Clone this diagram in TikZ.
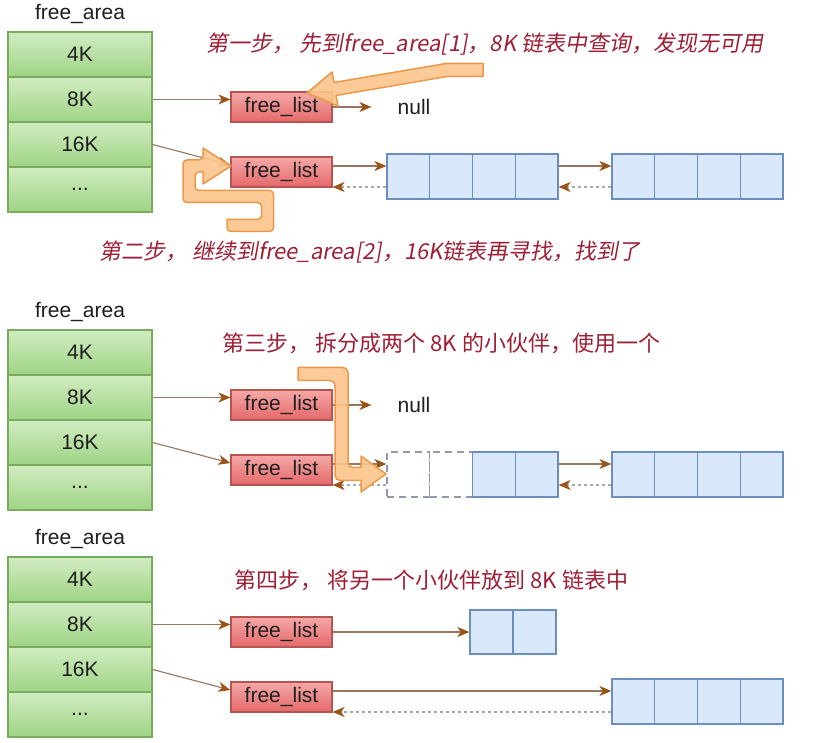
\documentclass[tikz,border=0pt]{standalone}
\usepackage{fontspec}
\setmainfont{Liberation Sans}
\newfontfamily\cjkup{Noto Sans CJK SC}
\newfontfamily\cjkslant[FakeSlant=0.18]{Noto Sans CJK SC}
\usetikzlibrary{arrows.meta}
\definecolor{gtop}{HTML}{D2ECC2}
\definecolor{gbot}{HTML}{9FD485}
\definecolor{gline}{HTML}{78AD5E}
\definecolor{rtop}{HTML}{F5A9A7}
\definecolor{rbot}{HTML}{E4686A}
\definecolor{rline}{HTML}{B85450}
\definecolor{bfill}{HTML}{DAE8FC}
\definecolor{bline}{HTML}{6C8EBF}
\definecolor{linkc}{HTML}{977560}
\definecolor{headc}{HTML}{9A5418}
\definecolor{dashc}{HTML}{A8A8A8}
\definecolor{ghostc}{HTML}{8F9AAE}
\definecolor{stepred}{HTML}{9F1F35}
\definecolor{ofill}{HTML}{FCC58C}
\definecolor{oline}{HTML}{EC984A}
\definecolor{ink}{HTML}{1E1E1E}
\begin{document}
\begin{tikzpicture}[x=1pt,y=-1pt,
  latinfont/.style={font=\fontsize{21pt}{25pt}\selectfont, text=ink},
  arealabel/.style={latinfont, inner sep=0},
  cell/.style={latinfont, draw=gline, line width=1.3pt, top color=gtop, bottom color=gbot,
    minimum width=144pt, minimum height=45pt, inner sep=0},
  flist/.style={latinfont, draw=rline, line width=1.2pt, top color=rtop, bottom color=rbot,
    minimum width=101pt, minimum height=30pt, inner sep=0},
  blk/.style={draw=bline, line width=1.3pt, fill=bfill, minimum width=42.75pt,
    minimum height=45pt, inner sep=0},
  ghost/.style={draw=ghostc, line width=1.3pt, dash pattern=on 7pt off 5pt,
    minimum width=42.75pt, minimum height=45pt, inner sep=0},
  link/.style={draw=linkc, line width=1.1pt, -{Stealth[length=12pt,width=10pt,inset=3.5pt,color=headc]}},
  back/.style={draw=dashc, line width=1.1pt, dash pattern=on 3pt off 3pt,
    -{Stealth[length=12pt,width=10pt,inset=3.5pt,color=headc]}},
  stepnote/.style={text=stepred, font=\cjkup\fontsize{22pt}{26pt}\selectfont, inner sep=0},
  stepslant/.style={text=stepred, font=\cjkslant\fontsize{22pt}{26pt}\selectfont, inner sep=0},
  bigarrow/.style={fill=ofill, draw=oline, line width=1.5pt, line join=round, fill opacity=0.9}
]
\useasboundingbox[fill=white] (0,0) rectangle (823,743);

% three copies of the free_area column with its two free_list heads
\foreach \p/\oy in {a/0,b/298,c/525}{
  \node[arealabel] (area\p) at (80,14+\oy) {free\_area};
  \node[cell] (kfour\p) at (80,54.5+\oy) {4K};
  \node[cell] (keight\p) at (80,99.5+\oy) {8K};
  \node[cell] (ksixteen\p) at (80,144.5+\oy) {16K};
  \node[cell] (kmore\p) at (80,189.5+\oy) {...};
  \node[flist] (fla\p) at (281.5,107+\oy) {free\_list};
  \node[flist] (flb\p) at (281.5,172+\oy) {free\_list};
  \draw[link] (keight\p.east) -- (keight\p.east -| fla\p.west);
  \draw[link] (ksixteen\p.east) -- ([yshift=7pt]flb\p.west);
}

% ---- step 1 / step 2 ----
\node[latinfont, inner sep=0] (nulla) at (414,107) {null};
\draw[link, shorten >=26pt] (flaa.east) -- (nulla.west);
\foreach \i/\x in {1/408.4,2/451.1,3/493.9,4/536.6}{
  \node[blk] (ba\i) at (\x,176.5) {};
}
\foreach \i/\x in {1/633.4,2/676.1,3/718.9,4/761.6}{
  \node[blk] (bb\i) at (\x,176.5) {};
}
\coordinate (ina) at ([yshift=10.5pt]ba1.west);
\coordinate (outa) at ([yshift=-10.5pt]ba1.west);
\draw[link] (flba.east |- ina) -- (ina);
\draw[back] (outa) -- (flba.east |- outa);
\draw[link] ([yshift=10.5pt]ba4.east) -- ([yshift=10.5pt]bb1.west);
\draw[back] ([yshift=-10.5pt]bb1.west) -- ([yshift=-10.5pt]ba4.east);

\node[stepslant] (stepone) at (485,44) {第一步，\ 先到free\_area[1]，8K 链表中查询，发现无可用};
\node[stepslant] (steptwo) at (370,252) {第二步，\ 继续到free\_area[2]，16K链表再寻找，找到了};

% ---- step 3 ----
\node[latinfont, inner sep=0] (nullb) at (414,405) {null};
\draw[link, shorten >=26pt] (flab.east) -- (nullb.west);
\node[ghost] (gb1) at (408.4,474.5) {};
\node[ghost] (gb2) at (451.1,474.5) {};
\node[blk] (cb3) at (493.9,474.5) {};
\node[blk] (cb4) at (536.6,474.5) {};
\foreach \i/\x in {1/633.4,2/676.1,3/718.9,4/761.6}{
  \node[blk] (db\i) at (\x,474.5) {};
}
\coordinate (inb) at ([yshift=10.5pt]gb1.west);
\coordinate (outb) at ([yshift=-10.5pt]gb1.west);
\draw[link] (flbb.east |- inb) -- (inb);
\draw[back] (outb) -- (flbb.east |- outb);
\draw[link] ([yshift=10.5pt]cb4.east) -- ([yshift=10.5pt]db1.west);
\draw[back] ([yshift=-10.5pt]db1.west) -- ([yshift=-10.5pt]cb4.east);

\node[stepnote] (stepthree) at (441.5,343) {第三步，\ 拆分成两个 8K 的小伙伴，使用一个};

% ---- step 4 ----
\node[blk, minimum width=43pt, minimum height=44pt] (pc1) at (491.5,632) {};
\node[blk, minimum width=43pt, minimum height=44pt] (pc2) at (534.5,632) {};
\draw[link] (flac.east) -- (pc1.west);
\foreach \i/\x in {1/633.4,2/676.1,3/718.9,4/761.6}{
  \node[blk] (bc\i) at (\x,701.5) {};
}
\coordinate (inc) at ([yshift=10.5pt]bc1.west);
\coordinate (outc) at ([yshift=-10.5pt]bc1.west);
\draw[link] (flbc.east |- inc) -- (inc);
\draw[back] (outc) -- (flbc.east |- outc);

\node[stepnote] (stepfour) at (431.5,580) {第四步，\ 将另一个小伙伴放到 8K 链表中};

% ---- hand-drawn orange pointers ----
\filldraw[bigarrow] (483,63.5) -- (446,63.5) -- (334,82.5) -- (332,72) -- (307,93) -- (338,106)
  -- (336,95.5) -- (447,76.5) -- (483,76.5) -- cycle;
\filldraw[bigarrow] (227,219.5) [rounded corners=4pt] -- (261.5,219.5) -- (261.5,202.5)
  -- (183,202.5) -- (183,160) -- (203,160) [sharp corners] -- (203,148) -- (231,166)
  -- (203,184) -- (203,172) [rounded corners=4pt] -- (195,172) -- (195,190.5)
  -- (273.5,190.5) -- (273.5,231.5) -- (227,231.5) [sharp corners] -- cycle;
\filldraw[bigarrow] (298,367.5) [rounded corners=5pt] -- (348,367.5) -- (348,467.5)
  [sharp corners] -- (361,467.5) -- (361,456) -- (386,474) -- (361,492) -- (361,480.5)
  [rounded corners=5pt] -- (335,480.5) -- (335,380.5) [sharp corners] -- (298,380.5) -- cycle;
\end{tikzpicture}
\end{document}
